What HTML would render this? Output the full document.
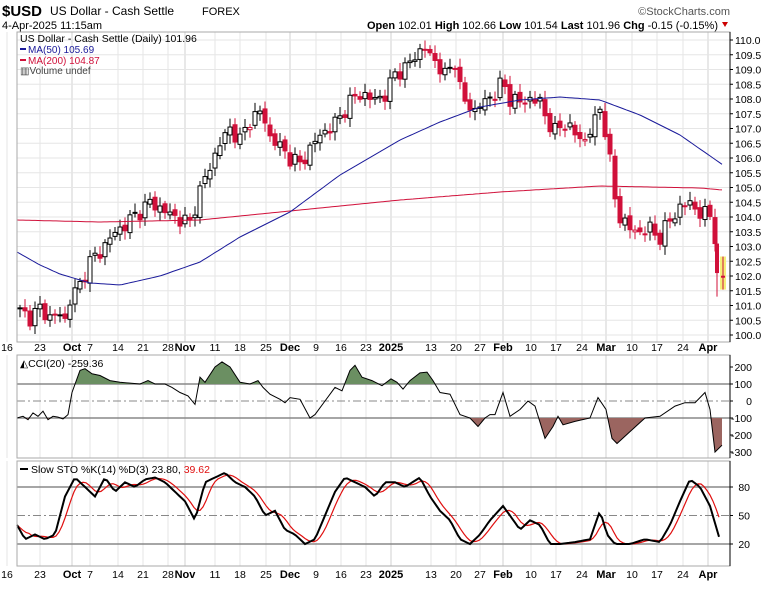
<!DOCTYPE html>
<html><head><meta charset="utf-8"><style>
body{margin:0;background:#fff;width:768px;height:585px;overflow:hidden;font-family:"Liberation Sans",sans-serif}
svg text{font-family:"Liberation Sans",sans-serif}
</style></head><body>
<svg id="s" width="768" height="585" xmlns="http://www.w3.org/2000/svg"></svg>
<script>
const s=document.getElementById('s');let h='';
const L=17,R=730;
function interp(pts,x){for(let i=0;i<pts.length-1;i++){if(x>=pts[i][0]&&x<=pts[i+1][0]){const t=(x-pts[i][0])/(pts[i+1][0]-pts[i][0]);return pts[i][1]+t*(pts[i+1][1]-pts[i][1]);}}return x<pts[0][0]?pts[0][1]:pts[pts.length-1][1];}
function path(pts){return pts.map((p,i)=>(i?'L':'M')+p[0].toFixed(1)+' '+p[1].toFixed(1)).join('');}
h+=`<text x="2" y="16" font-size="15" font-weight="bold">$USD</text><text x="50" y="15" font-size="12">US Dollar - Cash Settle</text><text x="202" y="15" font-size="11">FOREX</text>`;
h+=`<text x="730" y="15" font-size="11" fill="#555" text-anchor="end">©StockCharts.com</text>`;
h+=`<text x="2" y="29" font-size="11">4-Apr-2025 11:15am</text>`;
h+=`<text x="718" y="29" font-size="11" text-anchor="end"><tspan font-weight="bold">Open</tspan> 102.01 <tspan font-weight="bold">High</tspan> 102.66 <tspan font-weight="bold">Low</tspan> 101.54 <tspan font-weight="bold">Last</tspan> 101.96 <tspan font-weight="bold">Chg</tspan> -0.15 (-0.15%)</text><path d="M722 22l6 0-3 5z" fill="#c00"/>`;
const panels=[[32,342],[355,458],[461,566]];
const weeks=[7,40,90,118,143,168,215,240,266,316,341,366,431,456,480,531,556,582,632,657,683];
const months=[72,185,290,391,503,606,708];
panels.forEach(([t,b])=>{
 weeks.forEach(x=>h+=`<line x1="${x}" y1="${t}" x2="${x}" y2="${b}" stroke="#e6e6e6"/>`);
 months.forEach(x=>h+=`<line x1="${x}" y1="${t}" x2="${x}" y2="${b}" stroke="#d0d0d0"/>`);
});
const py=p=>335-(p-100)*29.5;
for(let p=100;p<=110.01;p+=0.5){const y=py(p);h+=`<line x1="${L}" y1="${y}" x2="${R}" y2="${y}" stroke="#e6e6e6"/><line x1="${R}" y1="${y}" x2="${R+3}" y2="${y}" stroke="#000"/><text x="${R+5}" y="${y+4}" font-size="10.5">${p.toFixed(1)}</text>`;}
const xl=[[7,'16'],[40,'23'],[72,'Oct',1],[90,'7'],[118,'14'],[143,'21'],[168,'28'],[185,'Nov',1],[215,'11'],[240,'18'],[266,'25'],[290,'Dec',1],[316,'9'],[341,'16'],[366,'23'],[391,'2025',1],[431,'13'],[456,'20'],[480,'27'],[503,'Feb',1],[531,'10'],[556,'17'],[582,'24'],[606,'Mar',1],[632,'10'],[657,'17'],[683,'24'],[708,'Apr',1]];
xl.forEach(([x,t,b])=>h+=`<text x="${x}" y="351" font-size="${b?11:10.5}" ${b?'font-weight="bold"':''} text-anchor="middle">${t}</text>`);
const pp=[[20,100.8],[30,100.6],[40,100.9],[50,100.6],[60,100.7],[65,100.5],[70,101.2],[80,101.7],[90,102.5],[100,102.8],[110,103.3],[120,103.6],[130,103.9],[140,104.2],[150,104.5],[160,104.3],[175,104.0],[190,103.8],[200,104.9],[210,105.7],[220,106.5],[230,107.0],[240,106.6],[250,107.3],[262,107.6],[270,106.7],[280,106.4],[290,106.0],[300,105.8],[310,106.3],[320,106.8],[330,107.0],[340,107.4],[350,107.9],[360,108.2],[370,108.0],[385,108.1],[395,108.9],[405,109.0],[415,109.5],[425,109.7],[435,109.3],[445,108.8],[455,109.3],[462,108.0],[475,107.6],[485,107.9],[495,108.2],[503,108.6],[510,108.0],[520,107.9],[530,108.0],[540,107.9],[548,107.2],[555,106.9],[565,107.2],[575,106.8],[585,106.6],[593,107.1],[600,107.7],[608,106.5],[613,104.9],[620,104.0],[630,103.6],[640,103.5],[650,103.6],[660,103.3],[670,103.9],[680,104.3],[690,104.5],[700,104.1],[710,104.1],[717,103.0],[723,102.0]];
let prev=100.9;
for(let i=0;i<=140;i++){const x=20+i*5;if(x>718)break;const n=Math.sin(i*2.3)*0.18+Math.cos(i*1.7)*0.12;let c=interp(pp,x)+n;let o=prev+(Math.sin(i*3.1)*0.08);
 const hi=Math.max(o,c)+0.1+Math.abs(Math.sin(i*1.3))*0.2,lo=Math.min(o,c)-0.1-Math.abs(Math.cos(i*0.9))*0.2;
 const up=c>=o,col=c<prev?'#d0103a':'#000';
 h+=`<line x1="${x}" y1="${py(hi)}" x2="${x}" y2="${py(lo)}" stroke="${col}"/>`;
 const y1=py(Math.max(o,c)),y2=py(Math.min(o,c));
 h+=`<rect x="${x-2}" y="${y1}" width="4" height="${Math.max(1,y2-y1)}" fill="${up?'#fff':col}" stroke="${col}" stroke-width="1"/>`;
 prev=c;}
h+=`<line x1="717" y1="${py(103.4)}" x2="717" y2="${py(101.3)}" stroke="#d0103a"/><rect x="715" y="${py(103.1)}" width="4" height="${py(102.1)-py(103.1)}" fill="#d0103a"/>`;
h+=`<rect x="720" y="${py(102.66)}" width="6" height="${py(101.54)-py(102.66)}" fill="#f5f07a"/><line x1="723" y1="${py(102.66)}" x2="723" y2="${py(101.54)}" stroke="#d0103a"/><rect x="721" y="${py(102.01)}" width="4" height="2" fill="#d0103a"/>`;
const ma50=[[17,252],[40,265],[60,274],[90,283],[120,285],[160,276],[200,262],[240,237],[290,212],[340,175],[400,140],[440,122],[480,107],[520,100],[560,97],[600,100],[640,115],[680,135],[723,165]];
const ma200=[[17,220],[100,222],[200,220],[300,210],[400,200],[500,192],[600,186],[650,187],[700,188],[723,190]];
function smooth(pts){const o=[];for(let x=pts[0][0];x<=pts[pts.length-1][0];x+=3)o.push([x,interp(pts,x)]);return path(o);}
h+=`<path d="${smooth(ma200)}" fill="none" stroke="#d0103a" stroke-width="1"/><path d="${smooth(ma50)}" fill="none" stroke="#1a1a9a" stroke-width="1"/>`;
h+=`<text x="20" y="42" font-size="10.5">US Dollar - Cash Settle (Daily) 101.96</text><rect x="20" y="48" width="6" height="2" fill="#1a1a9a"/><text x="28" y="53" font-size="10" fill="#1a1a9a">MA(50) 105.69</text><rect x="20" y="59" width="6" height="2" fill="#d0103a"/><text x="28" y="64" font-size="10" fill="#d0103a">MA(200) 104.87</text><text x="20" y="74" font-size="10" fill="#444">▥Volume undef</text>`;
const cy=v=>401-v*0.17;
[200,100,0,-100,-200,-300].forEach(v=>{h+=`<line x1="${R}" y1="${cy(v)}" x2="${R+3}" y2="${cy(v)}" stroke="#000"/><text x="${R+22}" y="${cy(v)+4}" font-size="10.5" text-anchor="end">${v}</text>`;});
h+=`<line x1="${L}" y1="${cy(100)}" x2="${R}" y2="${cy(100)}" stroke="#888" stroke-width="1.5"/><line x1="${L}" y1="${cy(-100)}" x2="${R}" y2="${cy(-100)}" stroke="#888" stroke-width="1.5"/><line x1="${L}" y1="${cy(0)}" x2="${R}" y2="${cy(0)}" stroke="#888" stroke-dasharray="8,3,2,3"/>`;
const cci=[[17,-100],[23,-90],[28,-110],[33,-70],[38,-90],[43,-60],[48,-110],[53,-90],[58,-95],[63,-105],[68,-80],[72,50],[80,180],[85,190],[92,160],[100,150],[110,120],[120,110],[130,105],[140,100],[148,120],[155,100],[165,100],[172,80],[180,50],[188,30],[195,-20],[200,140],[205,110],[215,200],[222,230],[230,200],[240,110],[250,100],[258,120],[263,80],[270,40],[280,10],[285,-10],[290,20],[300,10],[310,-100],[315,-80],[325,0],[335,80],[342,60],[350,180],[355,210],[362,140],[372,120],[382,90],[391,130],[397,110],[403,70],[410,120],[420,165],[427,170],[433,120],[440,50],[450,40],[460,-80],[470,-100],[478,-150],[485,-100],[490,-80],[495,-80],[503,50],[510,-90],[520,-50],[528,0],[535,-30],[545,-220],[553,-150],[558,-90],[563,-140],[575,-120],[590,-100],[598,20],[606,-50],[612,-220],[617,-250],[630,-180],[645,-100],[660,-90],[675,-30],[685,-10],[695,-10],[705,50],[710,-50],[715,-300],[722,-260]];
const cp=cci.map(([x,v])=>[x,cy(v)]);
const cd=path(cp);
h+=`<defs><clipPath id="ca"><rect x="0" y="0" width="768" height="${cy(100)}"/></clipPath><clipPath id="cb"><rect x="0" y="${cy(-100)}" width="768" height="100"/></clipPath></defs>`;
h+=`<path d="${cd}L722 ${cy(100)}L17 ${cy(100)}Z" fill="#6b8f62" stroke="none" clip-path="url(#ca)"/>`;
h+=`<path d="${cd}L722 ${cy(-100)}L17 ${cy(-100)}Z" fill="#9b6560" stroke="none" clip-path="url(#cb)"/>`;
h+=`<path d="${cd}" fill="none" stroke="#000" stroke-width="1"/>`;
h+=`<text x="20" y="367" font-size="10.5">◭CCI(20) -259.36</text>`;
const sy=v=>563-v*0.95;
[80,50,20].forEach(v=>{h+=`<line x1="${R}" y1="${sy(v)}" x2="${R+3}" y2="${sy(v)}" stroke="#000"/><text x="${R+20}" y="${sy(v)+4}" font-size="10.5" text-anchor="end">${v}</text>`;});
h+=`<line x1="${L}" y1="${sy(80)}" x2="${R}" y2="${sy(80)}" stroke="#888" stroke-width="1.5"/><line x1="${L}" y1="${sy(20)}" x2="${R}" y2="${sy(20)}" stroke="#888" stroke-width="1.5"/><line x1="${L}" y1="${sy(50)}" x2="${R}" y2="${sy(50)}" stroke="#888" stroke-dasharray="8,3,2,3"/>`;
const k=[[17,40],[25,25],[35,30],[45,25],[55,30],[65,70],[75,90],[85,80],[95,70],[105,90],[115,75],[125,85],[135,80],[145,88],[155,90],[165,85],[175,75],[185,65],[195,45],[205,85],[215,90],[225,95],[235,85],[245,80],[255,70],[265,50],[275,55],[285,35],[295,30],[305,20],[315,25],[325,50],[335,75],[345,90],[355,85],[365,80],[375,70],[385,85],[395,85],[405,80],[420,90],[430,70],[440,55],[450,45],[460,25],[470,20],[480,30],[490,45],[503,60],[510,50],[520,35],[530,45],[540,40],[550,20],[560,20],[575,22],[590,25],[600,55],[607,30],[615,20],[630,20],[645,25],[660,22],[670,40],[680,65],[690,88],[700,80],[710,60],[720,24]];
const ks=[];for(let x=17;x<=720;x+=3)ks.push([x,interp(k,x)]);
const ds=ks.map((p,i)=>{let a=0,n=0;for(let j=i-4;j<=i;j++){if(j>=0){a+=ks[j][1];n++;}}return [p[0],a/n];});
h+=`<path d="${path(ds.map(([x,v])=>[x,sy(v)]))}" fill="none" stroke="#e01010" stroke-width="1.2"/>`;
h+=`<path d="${path(ks.map(([x,v])=>[x,sy(v)]))}" fill="none" stroke="#000" stroke-width="2"/>`;
h+=`<rect x="20" y="468" width="8" height="2" fill="#000"/><text x="31" y="473" font-size="10.5">Slow STO %K(14) %D(3) 23.80, <tspan fill="#e01010">39.62</tspan></text>`;
xl.forEach(([x,t,b])=>h+=`<text x="${x}" y="578" font-size="${b?11:10.5}" ${b?'font-weight="bold"':''} text-anchor="middle">${t}</text>`);
panels.forEach(([t,b])=>h+=`<rect x="${L}" y="${t}" width="${R-L}" height="${b-t}" fill="none" stroke="#aaa"/><line x1="${R}" y1="${t}" x2="${R}" y2="${b}" stroke="#000"/>`);
s.innerHTML=h;
</script>
</body></html>
